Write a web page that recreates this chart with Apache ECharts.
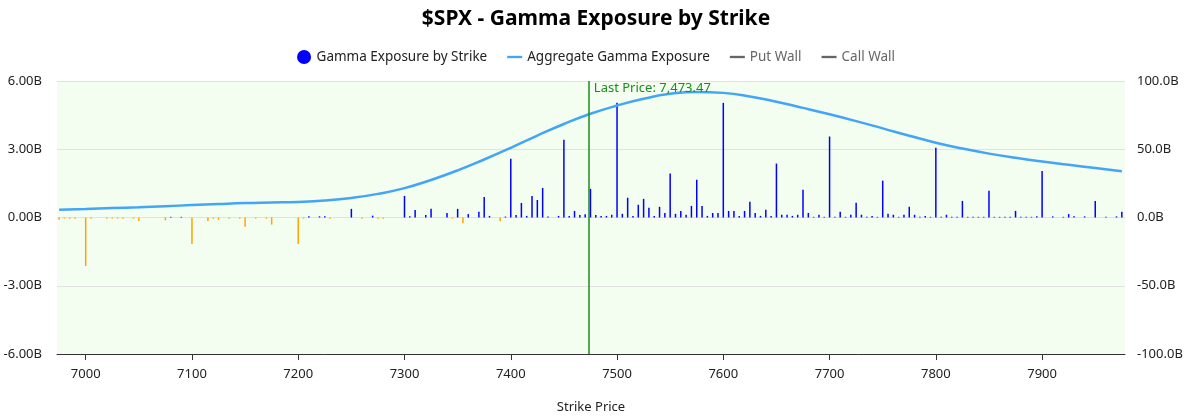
<!DOCTYPE html>
<html>
<head>
<meta charset="utf-8">
<script src="https://cdn.jsdelivr.net/npm/echarts@6/dist/echarts.min.js"></script>
<style>
  html, body { margin: 0; padding: 0; background: #fff; }
  #chart { width: 1192px; height: 417px; }
</style>
</head>
<body>
<div id="chart"></div>
<script>
// strikes every 5 points from 6975 to 7975
const strikes = [];
for (let s = 6975; s <= 7975; s += 5) strikes.push(s);

// net gamma per strike, in billions
const gammaByStrike = [
  -0.10, -0.05, -0.05, -0.05, 0, -2.13, -0.05, 0, 0, -0.05,      // 6975-7020
  -0.05, -0.05, -0.05, 0, -0.05, -0.15, 0, 0, 0, 0,             // 7025-7070
  -0.12, 0.03, 0, 0.03, 0, -1.16, 0, 0, -0.15, -0.05,           // 7075-7120
  -0.10, 0, -0.05, 0, -0.05, -0.41, 0, -0.05, 0, -0.05,         // 7125-7170
  -0.31, 0, 0, 0, 0, -1.17, -0.05, 0.05, 0, 0.05,               // 7175-7220
  0.05, -0.05, 0, 0, 0, 0.38, 0, -0.05, 0, 0.08,                // 7225-7270
  -0.05, -0.05, 0, 0, 0, 0.95, 0.05, 0.33, 0, 0.11,             // 7275-7320
  0.38, 0, 0, 0.20, -0.05, 0.38, -0.25, 0.15, 0, 0.25,          // 7325-7370
  0.90, 0.07, 0, -0.16, 0.04, 2.58, 0.11, 0.64, 0.07, 0.95,     // 7375-7420
  0.77, 1.30, 0.04, 0, 0.07, 3.42, 0.07, 0.29, 0.11, 0.14,      // 7425-7470
  1.26, 0.11, 0.07, 0.07, 0.12, 5.04, 0.16, 0.87, 0.07, 0.56,   // 7475-7520
  0.82, 0.43, 0.07, 0.47, 0.20, 1.93, 0.16, 0.29, 0.12, 0.51,   // 7525-7570
  1.66, 0.51, 0.07, 0.20, 0.20, 5.04, 0.29, 0.29, 0.07, 0.29,   // 7575-7620
  0.69, 0.20, 0.07, 0.34, 0.07, 2.37, 0.12, 0.12, 0.07, 0.12,   // 7625-7670
  1.22, 0.20, 0.03, 0.12, 0.03, 3.56, 0.03, 0.25, 0.03, 0.12,   // 7675-7720
  0.65, 0.12, 0.03, 0.07, 0.03, 1.62, 0.16, 0.12, 0.03, 0.12,   // 7725-7770
  0.47, 0.12, 0.03, 0.07, 0.03, 3.07, 0.03, 0.12, 0.03, 0.03,   // 7775-7820
  0.73, 0.03, 0.03, 0.03, 0.03, 1.18, 0.03, 0.03, 0.03, 0.03,   // 7825-7870
  0.29, 0.03, 0.03, 0.03, 0.05, 2.04, 0, 0.05, 0, 0.03,         // 7875-7920
  0.15, 0.05, 0, 0.05, 0, 0.72, 0, 0.03, 0, 0.05,               // 7925-7970
  0.25                                                          // 7975
];

// aggregate gamma exposure curve (right axis, billions)
const aggStrikes = [
  6975, 7000, 7025, 7050, 7075, 7100, 7125, 7150, 7175, 7200,
  7225, 7250, 7275, 7300, 7325, 7350, 7375, 7400, 7425, 7450,
  7475, 7500, 7525, 7550, 7575, 7600, 7625, 7650, 7675, 7700,
  7725, 7750, 7775, 7800, 7825, 7850, 7875, 7900, 7925, 7950, 7975
];
const aggGamma = [
  5.6, 6.2, 6.9, 7.5, 8.3, 9.1, 9.9, 10.6, 11.0, 11.4,
  12.4, 14.3, 17.3, 21.5, 27.5, 34.5, 42.5, 51.0, 60.0, 68.5,
  76.0, 82.0, 87.0, 90.6, 92.0, 91.3, 88.7, 84.8, 80.3, 75.6,
  70.6, 65.3, 59.9, 54.8, 50.5, 46.8, 43.7, 41.0, 38.6, 36.2, 33.8
];

const xTicks = [7000, 7100, 7200, 7300, 7400, 7500, 7600, 7700, 7800, 7900];
const lastPrice = 7473.47;
const leftTicks = [-6, 6, 3];     // min, max, interval
const rightTicks = [-100, 100, 50];

const chart = echarts.init(document.getElementById('chart'));
const font = 'Noto Sans';
const lineIcon = 'path://M0,0 H16 V2.5 H0 Z';

const barData = strikes.map((s, i) => {
  const v = gammaByStrike[i];
  return { value: [s, v], itemStyle: { color: v < 0 ? '#FFA500' : '#0000FF' } };
});

chart.setOption({
  animation: false,
  textStyle: { fontFamily: font },
  title: {
    text: '$SPX - Gamma Exposure by Strike',
    left: 'center',
    top: 4,
    textStyle: { fontSize: 21, fontWeight: 'bold', color: '#000', fontFamily: font }
  },
  legend: {
    top: 45,
    left: 'center',
    itemGap: 20,
    itemWidth: 15,
    itemHeight: 14,
    symbolKeepAspect: true,
    inactiveColor: '#666',
    textStyle: { fontSize: 13.5, color: '#222', fontFamily: font },
    data: [
      { name: 'Gamma Exposure by Strike', icon: 'circle', itemStyle: { color: '#0000FF' } },
      { name: 'Aggregate Gamma Exposure', icon: lineIcon, itemStyle: { color: '#42A5F5' } },
      { name: 'Put Wall', icon: lineIcon },
      { name: 'Call Wall', icon: lineIcon }
    ],
    selected: { 'Put Wall': false, 'Call Wall': false }
  },
  grid: {
    left: 57, right: 67, top: 81, bottom: 63,
    outerBoundsMode: 'none',
    show: true, backgroundColor: '#F3FDF0', borderWidth: 0
  },
  xAxis: {
    type: 'value',
    min: 6973,
    max: 7978,
    name: 'Strike Price',
    nameLocation: 'middle',
    nameGap: 47,
    nameTextStyle: { fontSize: 13, color: '#222' },
    axisLine: { onZero: false, lineStyle: { color: '#333' } },
    axisTick: { customValues: xTicks, lineStyle: { color: '#333' }, length: 6 },
    axisLabel: {
      customValues: xTicks, fontSize: 13, color: '#222', margin: 14,
      formatter: v => String(v)
    },
    splitLine: { show: false }
  },
  yAxis: [
    {
      type: 'value',
      min: leftTicks[0], max: leftTicks[1], interval: leftTicks[2],
      axisLine: { show: false },
      axisTick: { show: false },
      axisLabel: { fontSize: 13, color: '#222', margin: 15, formatter: v => v.toFixed(2) + 'B' },
      splitLine: { lineStyle: { color: '#e2e2e2' } }
    },
    {
      type: 'value',
      min: rightTicks[0], max: rightTicks[1], interval: rightTicks[2],
      axisLine: { show: false },
      axisTick: { show: false },
      axisLabel: { fontSize: 13, color: '#222', margin: 12, formatter: v => v.toFixed(1) + 'B' },
      splitLine: { show: false }
    }
  ],
  series: [
    {
      name: 'Gamma Exposure by Strike',
      type: 'bar',
      barWidth: 1.5,
      color: '#0000FF',
      data: barData,
      markLine: {
        silent: true,
        symbol: 'none',
        label: { show: false },
        lineStyle: { color: '#1E8C1E', width: 1.5, type: 'solid' },
        data: [{ xAxis: lastPrice }]
      },
      markPoint: {
        silent: true,
        symbol: 'circle',
        symbolSize: 0,
        label: {
          show: true,
          position: 'right',
          distance: 5,
          color: '#1E8C1E',
          fontSize: 13,
          formatter: 'Last Price: ' + lastPrice.toLocaleString('en-US', { minimumFractionDigits: 2 })
        },
        data: [{ coord: [lastPrice, 5.7] }]
      }
    },
    {
      name: 'Aggregate Gamma Exposure',
      type: 'line',
      yAxisIndex: 1,
      smooth: true,
      symbol: 'none',
      color: '#42A5F5',
      lineStyle: { width: 2.5, color: '#42A5F5' },
      data: aggStrikes.map((s, i) => [s, aggGamma[i]]),
      z: 3
    },
    { name: 'Put Wall', type: 'line', symbol: 'none', color: '#555', data: [] },
    { name: 'Call Wall', type: 'line', symbol: 'none', color: '#555', data: [] }
  ]
});
</script>
</body>
</html>
